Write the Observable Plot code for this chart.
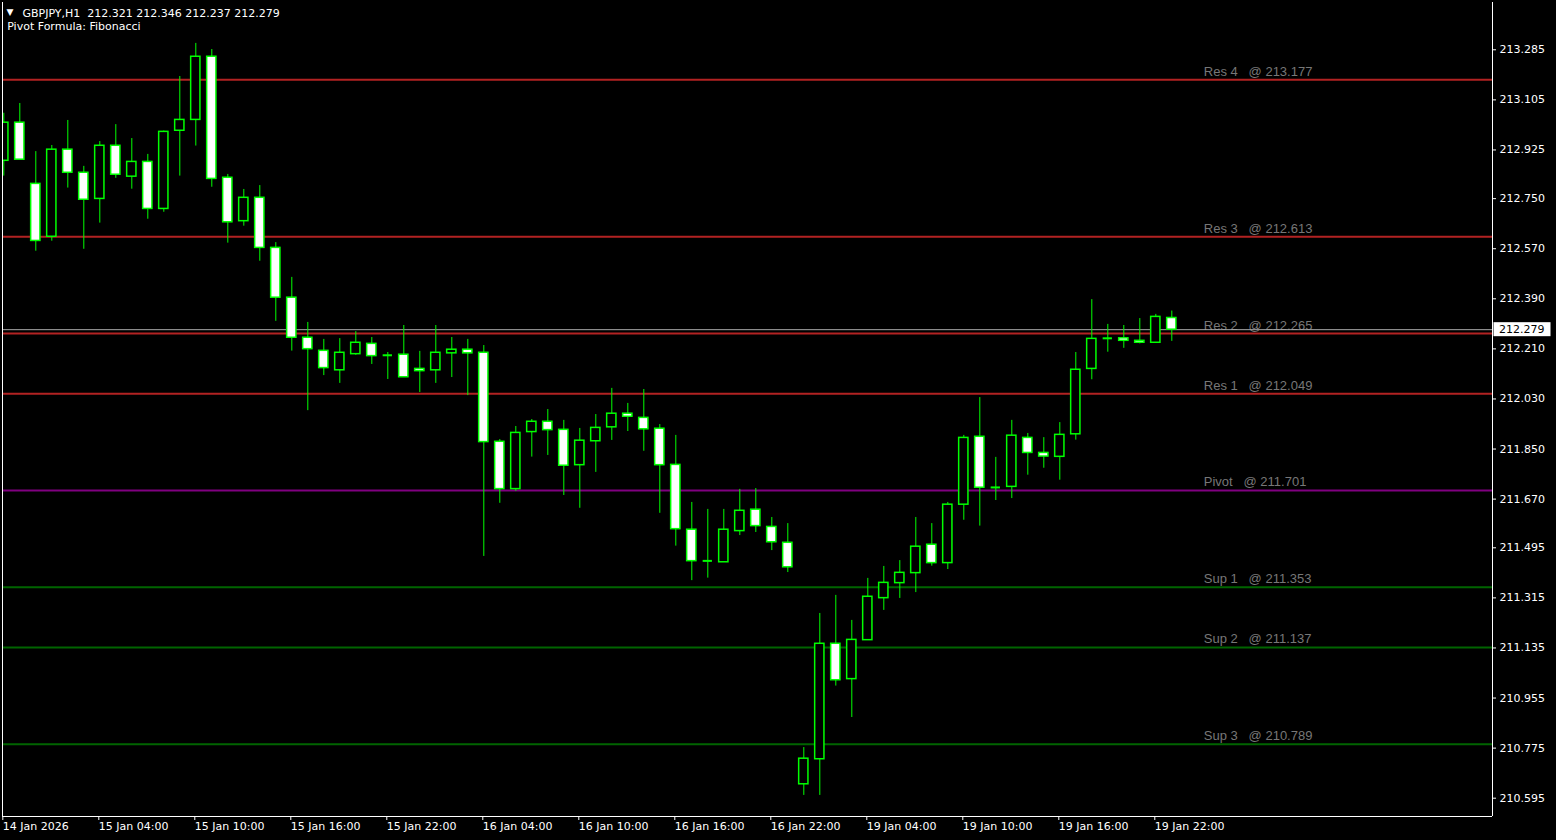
<!DOCTYPE html>
<html>
<head>
<meta charset="utf-8">
<script src="https://cdn.jsdelivr.net/npm/d3@7"></script>
<script src="https://cdn.jsdelivr.net/npm/@observablehq/plot@0.6"></script>
<style>
  html, body { margin: 0; padding: 0; background: #000; overflow: hidden; }
  #chart svg { display: block; }
</style>
</head>
<body>
<div id="chart"></div>
<script>
// ---------------- DATA ----------------
const symbol = "GBPJPY,H1";
const subtitle = "Pivot Formula: Fibonacci";

// Hourly bars, 14 Jan 2026 22:00 -> 19 Jan 2026 23:00 (bar index = position)
const opens = [
  212.886, 213.023, 212.803, 212.613, 212.926, 212.843, 212.749, 212.940, 212.829, 212.882,
  212.713, 212.994, 213.033, 213.260, 212.825, 212.669, 212.753, 212.573, 212.394, 212.250,
  212.203, 212.133, 212.191, 212.228, 212.187, 212.189, 212.138, 212.133, 212.194, 212.207,
  212.196, 211.876, 211.706, 211.911, 211.948, 211.919, 211.792, 211.878, 211.928, 211.977,
  211.962, 211.923, 211.793, 211.560, 211.448, 211.443, 211.555, 211.632, 211.570, 211.513,
  210.645, 210.735, 211.150, 211.023, 211.163, 211.314, 211.368, 211.404, 211.506, 211.440,
  211.650, 211.894, 211.712, 211.714, 211.890, 211.836, 211.822, 211.903, 212.138, 212.248,
  212.248, 212.239, 212.232, 212.321
];
const highs = [
  213.057, 213.092, 212.919, 212.941, 213.031, 212.866, 212.955, 213.016, 212.966, 212.909,
  212.993, 213.189, 213.308, 213.286, 212.837, 212.783, 212.797, 212.592, 212.467, 212.305,
  212.244, 212.247, 212.272, 212.251, 212.197, 212.294, 212.201, 212.294, 212.251, 212.244,
  212.222, 211.884, 211.931, 211.956, 211.992, 211.953, 211.924, 211.974, 212.068, 212.014,
  212.064, 211.938, 211.899, 211.658, 211.633, 211.633, 211.705, 211.708, 211.604, 211.582,
  210.777, 211.259, 211.324, 211.234, 211.385, 211.428, 211.449, 211.604, 211.582, 211.658,
  211.899, 212.035, 211.820, 211.953, 211.906, 211.891, 211.945, 212.197, 212.387, 212.298,
  212.294, 212.319, 212.334, 212.346
];
const lows = [
  212.831, 212.890, 212.561, 212.597, 212.788, 212.568, 212.662, 212.823, 212.784, 212.676,
  212.701, 212.831, 212.939, 212.791, 212.590, 212.651, 212.525, 212.309, 212.202, 211.988,
  212.114, 212.086, 212.187, 212.154, 212.100, 212.108, 212.053, 212.086, 212.107, 212.042,
  211.464, 211.655, 211.698, 211.821, 211.827, 211.683, 211.637, 211.766, 211.881, 211.913,
  211.842, 211.619, 211.501, 211.377, 211.386, 211.443, 211.539, 211.550, 211.485, 211.406,
  210.605, 210.605, 210.998, 210.885, 211.163, 211.270, 211.313, 211.334, 211.429, 211.417,
  211.594, 211.573, 211.665, 211.672, 211.756, 211.781, 211.738, 211.882, 212.099, 212.198,
  212.212, 212.228, 212.232, 212.237
];
const closes = [
  213.023, 212.890, 212.598, 212.926, 212.843, 212.746, 212.940, 212.836, 212.882, 212.713,
  212.990, 213.033, 213.260, 212.821, 212.665, 212.753, 212.573, 212.394, 212.250, 212.209,
  212.141, 212.196, 212.232, 212.184, 212.187, 212.108, 212.130, 212.196, 212.207, 212.194,
  211.875, 211.706, 211.908, 211.948, 211.918, 211.790, 211.880, 211.926, 211.977, 211.966,
  211.921, 211.792, 211.562, 211.447, 211.448, 211.560, 211.628, 211.573, 211.515, 211.425,
  210.737, 211.150, 211.019, 211.164, 211.319, 211.369, 211.405, 211.499, 211.440, 211.650,
  211.890, 211.711, 211.712, 211.898, 211.836, 211.823, 211.901, 212.135, 212.246, 212.248,
  212.239, 212.232, 212.325, 212.279
];

// Pivot levels (Fibonacci)
const levelNames  = ["Res 4", "Res 3", "Res 2", "Res 1", "Pivot", "Sup 1", "Sup 2", "Sup 3"];
const levelValues = [213.177, 212.613, 212.265, 212.049, 211.701, 211.353, 211.137, 210.789];
const levelKinds  = ["res", "res", "res", "res", "pivot", "sup", "sup", "sup"];

// Axis ticks
const yTicks = [213.285, 213.105, 212.925, 212.750, 212.570, 212.390, 212.210, 212.030,
                211.850, 211.670, 211.495, 211.315, 211.135, 210.955, 210.775, 210.595];
const tickBars = [0, 6, 12, 18, 24, 30, 36, 42, 48, 54, 60, 66, 72];
const tickLabels = ["14 Jan 2026", "15 Jan 04:00", "15 Jan 10:00", "15 Jan 16:00", "15 Jan 22:00",
                    "16 Jan 04:00", "16 Jan 10:00", "16 Jan 16:00", "16 Jan 22:00",
                    "19 Jan 04:00", "19 Jan 10:00", "19 Jan 16:00", "19 Jan 22:00"];

// ---------------- STYLE / SCALES ----------------
const levelColor = { res: "#B22222", pivot: "#800080", sup: "#006400" };
const lime = "#00FF00";
const xDomain = [-0.08125, 93.04375];
const yDomain = [210.5292, 213.4550];
const halfBody = 0.29;

const candles = opens.map((o, i) => ({ i, o, h: highs[i], l: lows[i], c: closes[i] }));
const levels = levelNames.map((name, k) => ({ name, value: levelValues[k], kind: levelKinds[k] }));
const last = candles[candles.length - 1];
const labelBar = last.i + 2;
const nb = "\u00a0";
const header = `${symbol}${nb}${nb}${[last.o, last.h, last.l, last.c].map(v => v.toFixed(3)).join(" ")}`;

const chart = Plot.plot({
  width: 1556,
  height: 840,
  marginLeft: 2,
  marginRight: 64,
  marginTop: 2,
  marginBottom: 24,
  style: { background: "#000", color: "#fff", fontFamily: "'DejaVu Sans', sans-serif", fontSize: "11px" },
  x: { type: "linear", domain: xDomain, axis: null, label: null },
  y: { type: "linear", domain: yDomain, axis: null, label: null },
  marks: [
    // pivot lines + labels
    Plot.ruleY(levels, { y: "value", stroke: d => levelColor[d.kind], strokeWidth: 2 }),
    Plot.text(levels, {
      x: labelBar, y: "value",
      text: d => `${d.name}${nb}${nb}${nb}@ ${d.value.toFixed(3)}`,
      textAnchor: "start", lineAnchor: "bottom", dy: -4,
      fill: "#777777", fontSize: 13, fontFamily: "'Liberation Sans', Arial, sans-serif"
    }),
    // bid line
    Plot.ruleY([last.c], { stroke: "#A8A8A8", strokeWidth: 1 }),
    // candles
    Plot.ruleX(candles, { x: "i", y1: "l", y2: "h", stroke: lime, strokeWidth: 1, clip: true }),
    Plot.rect(candles.filter(d => d.o !== d.c), {
      x1: d => d.i - halfBody, x2: d => d.i + halfBody, y1: "o", y2: "c",
      fill: d => (d.c > d.o ? "#000" : "#fff"), stroke: lime, strokeWidth: 1.5, clip: true
    }),
    Plot.ruleY(candles.filter(d => d.o === d.c), {
      y: "c", x1: d => d.i - halfBody, x2: d => d.i + halfBody, stroke: lime, strokeWidth: 2
    }),
    // axes
    Plot.axisY(yTicks, {
      anchor: "right", tickSize: 3, tickPadding: 4, tickFormat: d => d.toFixed(3),
      fill: "#fff", stroke: "#fff", label: null
    }),
    Plot.axisX(tickBars, {
      anchor: "bottom", tickSize: 4, tickPadding: 2,
      tickFormat: d => tickLabels[tickBars.indexOf(d)],
      textAnchor: "start", dx: -1, fill: "#fff", stroke: "#fff", label: null
    }),
    // frame (left, right, bottom)
    Plot.ruleX(xDomain, { stroke: "#fff", strokeWidth: 1 }),
    Plot.ruleY([yDomain[0]], { stroke: "#fff", strokeWidth: 1 }),
    // current price box on the price axis
    (index, scales, values, dims) => {
      const y = scales.y(last.c);
      const xr = dims.width - dims.marginRight;
      const g = d3.create("svg:g");
      g.append("rect").attr("x", xr + 1.5).attr("y", y - 7).attr("width", 57).attr("height", 14).attr("fill", "#fff");
      g.append("text").attr("x", xr + 7).attr("y", y).attr("dy", "0.36em").attr("fill", "#000")
        .attr("text-anchor", "start").text(last.c.toFixed(3));
      return g.node();
    },
    // header
    Plot.text(["\u25BC"], { frameAnchor: "top-left", text: d => d, dx: 4, dy: 12, lineAnchor: "bottom", textAnchor: "start", fill: "#fff", fontSize: 9 }),
    Plot.text([header], { frameAnchor: "top-left", text: d => d, dx: 20, dy: 14.7, lineAnchor: "bottom", textAnchor: "start", fill: "#fff" }),
    Plot.text([subtitle], { frameAnchor: "top-left", text: d => d, dx: 4.7, dy: 27.3, lineAnchor: "bottom", textAnchor: "start", fill: "#fff" })
  ]
});
document.getElementById("chart").append(chart);
</script>
</body>
</html>
